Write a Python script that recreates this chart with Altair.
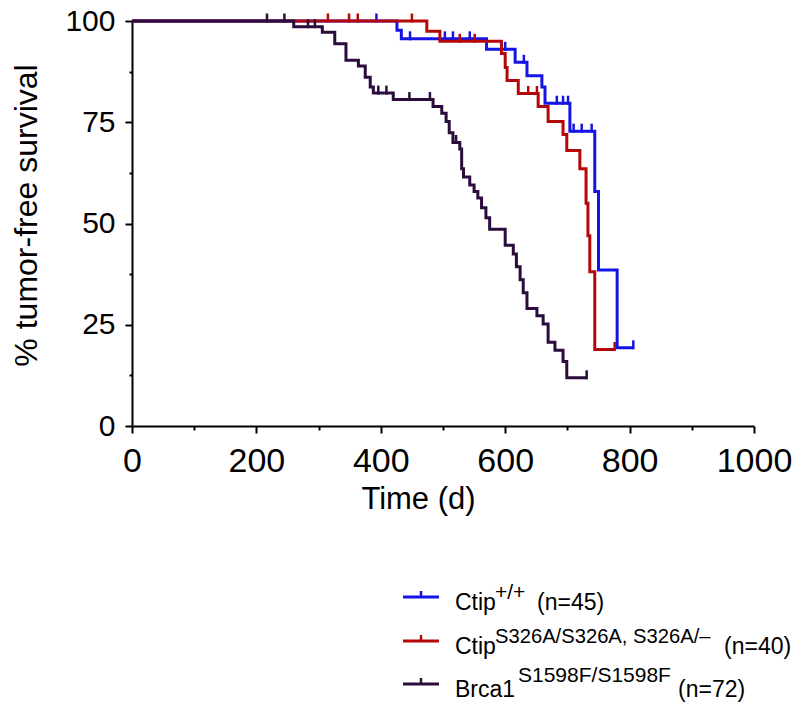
import altair as alt
import pandas as pd

FONT = "Liberation Sans"

# ---- Ctip+/+ (n=45) ----
wt_t = [0, 426, 433, 570, 616, 635, 659, 664, 704, 744, 750, 780, 806]
wt_s = [100, 97.7, 95.6, 93.0, 89.8, 86.5, 83.7, 79.7, 72.8, 57.9, 38.5, 19.3, 19.3]
wt_ct = [393, 447, 503, 516, 543, 600, 630, 683, 693, 701, 710, 723, 739, 806]
wt_cs = [100, 95.6, 95.6, 95.6, 95.6, 93.0, 89.8, 79.7, 79.7, 79.7, 72.8, 72.8, 72.8, 19.3]

# ---- Ctip S326A/S326A, S326A/- (n=40) ----
sa_t = [0, 474, 495, 594, 600, 603, 621, 653, 669, 693, 699, 720, 730, 733, 736, 744, 776]
sa_s = [100, 97.5, 95.0, 92.0, 88.5, 85.3, 82.1, 78.9, 75.2, 72.0, 68.0, 63.5, 55.0, 47.0, 38.1, 18.9, 18.9]
sa_ct = [315, 349, 363, 450, 527, 551, 637, 651, 776]
sa_cs = [100, 100, 100, 100, 95.0, 95.0, 82.1, 82.1, 18.9]

# ---- Brca1 S1598F/S1598F (n=72) ----
br_t = [0, 260, 306, 326, 344, 364, 375, 383, 388, 420, 484, 498, 505, 510, 516, 527,
        530, 533, 543, 550, 556, 562, 569, 575, 600, 613, 618, 624, 629, 635, 651, 661,
        669, 680, 693, 699, 731]
br_s = [100, 98.6, 97.2, 94.4, 90.3, 88.9, 86.1, 83.7, 82.2, 80.6, 78.9, 77.2, 75.2, 72.4, 70.0, 68.4,
        63.5, 61.5, 59.5, 57.9, 56.3, 53.9, 51.4, 48.6, 44.6, 42.5, 39.3, 36.1, 32.9, 29.0, 27.2, 25.2,
        20.7, 18.7, 15.9, 11.9, 11.9]
br_ct = [217, 245, 283, 294, 396, 409, 446, 479, 521, 731]
br_cs = [100, 100, 98.6, 98.6, 82.2, 82.2, 80.6, 80.6, 70.0, 11.9]

series = [
    ("wt", wt_t, wt_s, wt_ct, wt_cs, "#1414e6"),
    ("sa", sa_t, sa_s, sa_ct, sa_cs, "#b40808"),
    ("br", br_t, br_s, br_ct, br_cs, "#2c0c3c"),
]

# legend content
leg_names = ["Ctip", "Ctip", "Brca1"]
leg_sups = ["+/+", "S326A/S326A, S326A/\u2013", "S1598F/S1598F"]
leg_ns = ["(n=45)", "(n=40)", "(n=72)"]
leg_colors = ["#1414e6", "#b40808", "#2c0c3c"]

x_axis = alt.Axis(
    values=list(range(0, 1001, 100)),
    format="d",
    labelExpr="datum.value % 200 == 0 ? datum.label : ''",
    tickSize={"condition": {"test": "datum.value % 200 != 0", "value": 4}, "value": 7},
    tickWidth=2, tickColor="black", domainColor="black", domainWidth=2,
    labelFont=FONT, labelFontSize=34, labelColor="black",
    labelBaseline="alphabetic", labelPadding=38, labelFlush=False,
    grid=False, title="Time (d)", titleFont=FONT, titleFontSize=31,
    titleFontWeight="normal", titleColor="black",
    titleX=286, titleY=82, titleBaseline="alphabetic", titleAlign="center",
)
y_axis = alt.Axis(
    values=[0, 12.5, 25, 37.5, 50, 62.5, 75, 87.5, 100],
    labelExpr="datum.value % 25 == 0 ? format(datum.value, 'd') : ''",
    tickSize={"condition": {"test": "datum.value % 25 != 0", "value": 3}, "value": 7},
    tickWidth=2, tickColor="black", domainColor="black", domainWidth=2,
    labelFont=FONT, labelFontSize=30, labelColor="black", labelPadding=10,
    labelFlush=False, grid=False,
    title="% tumor-free survival", titleFont=FONT, titleFontSize=32,
    titleFontWeight="normal", titleColor="black",
    titleX=-96, titleY=194, titleBaseline="alphabetic", titleAngle=270,
    titleAlign="center",
)

xs = alt.Scale(domain=[0, 1000], nice=False, zero=False)
ys = alt.Scale(domain=[0, 100], nice=False, zero=False)

layers = []
for name, t, s, ct, cs, col in series:
    dfl = pd.DataFrame({"t": t, "s": s})
    layers.append(
        alt.Chart(dfl).mark_line(interpolate="step-after", strokeWidth=3, color=col,
                                 strokeCap="butt", strokeJoin="miter")
        .encode(x=alt.X("t:Q", scale=xs, axis=x_axis),
                y=alt.Y("s:Q", scale=ys, axis=y_axis),
                order="t:Q")
    )
    dfc = pd.DataFrame({"t": ct, "s": cs})
    layers.append(
        alt.Chart(dfc).mark_tick(orient="vertical", size=9, thickness=2.5, color=col,
                                 yOffset=-3, opacity=1)
        .encode(x=alt.X("t:Q", scale=xs, axis=x_axis),
                y=alt.Y("s:Q", scale=ys, axis=y_axis))
    )

# custom legend (positions in plot-area pixels)
one = pd.DataFrame({"k": [0]})
base_y = [589, 633, 676]
sup_dy = [11, 11, 15]
sup_x = [363, 363, 386]
sup_fs = [21, 20.2, 21]
n_x = [405, 592, 546]
for i in range(3):
    by = base_y[i]
    ly = by - 13
    col = leg_colors[i]
    layers.append(alt.Chart(one).mark_rule(color=col, strokeWidth=3, strokeCap="butt")
                  .encode(x=alt.value(271), x2=alt.value(307), y=alt.value(ly)))
    layers.append(alt.Chart(one).mark_rule(color=col, strokeWidth=2.5, strokeCap="butt")
                  .encode(x=alt.value(289), y=alt.value(ly - 6), y2=alt.value(ly)))
    layers.append(alt.Chart(one).mark_text(font=FONT, fontSize=23, align="left",
                                           baseline="alphabetic", color="black")
                  .encode(x=alt.value(323), y=alt.value(by), text=alt.value(leg_names[i])))
    layers.append(alt.Chart(one).mark_text(font=FONT, fontSize=sup_fs[i], align="left",
                                           baseline="alphabetic", color="black")
                  .encode(x=alt.value(sup_x[i]), y=alt.value(by - sup_dy[i]),
                          text=alt.value(leg_sups[i])))
    layers.append(alt.Chart(one).mark_text(font=FONT, fontSize=23, align="left",
                                           baseline="alphabetic", color="black")
                  .encode(x=alt.value(n_x[i]), y=alt.value(by), text=alt.value(leg_ns[i])))

chart = alt.layer(*layers).properties(
    width=622, height=405,
    autosize=alt.AutoSizeParams(type="none"),
    padding={"left": 124, "top": 13, "right": 38, "bottom": 276},
    background="white",
).configure_view(stroke=None)

chart.save("out.html", embed_options={"renderer": "svg", "actions": False})
